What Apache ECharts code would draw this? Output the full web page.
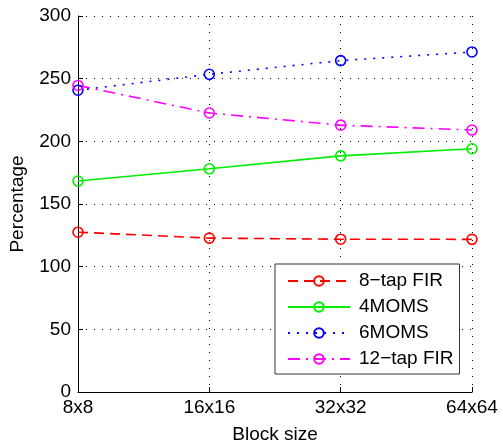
<!DOCTYPE html>
<html>
<head>
<meta charset="utf-8">
<script src="https://cdn.jsdelivr.net/npm/echarts@6/dist/echarts.min.js"></script>
<style>
  html, body { margin: 0; padding: 0; background: #fff; }
  #chart { width: 503px; height: 443px; }
</style>
</head>
<body>
<div id="chart"></div>
<script>
  // block sizes on the x axis
  let blockSizes = ['8x8', '16x16', '32x32', '64x64']
  let fir8 = [127.5, 122.8, 121.9, 121.8]
  let moms4 = [168.3, 178.1, 188.4, 194.1]
  let moms6 = [240.8, 253.5, 264.4, 271.3]
  let fir12 = [244.6, 222.6, 212.9, 209.0]
  let yTicks = [0, 50, 100, 150, 200, 250, 300]

  let font = 'Liberation Sans, Arial, Helvetica, sans-serif'
  let fs = 19

  function makeSeries(name, data, color, type){
    return {
      name: name,
      type: 'line',
      data: data,
      symbol: 'circle',
      symbolSize: 10,
      showSymbol: true,
      itemStyle: {
        color: 'rgba(255,255,255,0)',
        borderColor: color,
        borderWidth: 1.6
      },
      lineStyle: {
        color: color,
        width: 1.6,
        type: type
      },
      emphasis: { disabled: true },
      z: 3
    }
  }

  let chart = echarts.init(document.getElementById('chart'))
  let option = {
    animation: false,
    textStyle: { fontFamily: font },
    grid: {
      left: 78,
      right: 31,
      top: 16,
      bottom: 51,
      outerBoundsMode: 'none'
    },
    legend: {
      orient: 'vertical',
      left: 275,
      top: 264,
      padding: [7, 6, 5, 12],
      itemWidth: 62,
      itemHeight: 12,
      itemGap: 6,
      backgroundColor: '#fff',
      borderColor: '#333',
      borderWidth: 1,
      textStyle: { fontFamily: font, fontSize: fs, lineHeight: 20, color: '#000', padding: [0, 0, 0, 4] },
      data: ['8\u2212tap FIR', '4MOMS', '6MOMS', '12\u2212tap FIR']
    },
    xAxis: {
      type: 'category',
      data: blockSizes,
      boundaryGap: false,
      name: 'Block size',
      nameLocation: 'middle',
      nameGap: 33,
      nameTextStyle: { fontFamily: font, fontSize: fs, color: '#000' },
      axisLine: { lineStyle: { color: '#000', width: 1 } },
      axisTick: { show: true, inside: true, length: 5, alignWithLabel: true, lineStyle: { color: '#000' } },
      axisLabel: { fontFamily: font, fontSize: fs, color: '#000', margin: 6 },
      splitLine: { show: true, lineStyle: { color: '#000', type: [1, 7], width: 1 } }
    },
    yAxis: {
      type: 'value',
      min: yTicks[0],
      max: yTicks[yTicks.length - 1],
      interval: 50,
      name: 'Percentage',
      nameLocation: 'middle',
      nameGap: 51,
      nameTextStyle: { fontFamily: font, fontSize: fs, color: '#000' },
      axisLine: { show: true, lineStyle: { color: '#000', width: 1 } },
      axisTick: { show: true, inside: true, length: 5, lineStyle: { color: '#000' } },
      axisLabel: { fontFamily: font, fontSize: fs, color: '#000', margin: 7 },
      splitLine: { show: true, lineStyle: { color: '#000', type: [1, 7], width: 1 } }
    },
    series: [
      makeSeries('8\u2212tap FIR', fir8, '#ff0000', [10, 6]),
      makeSeries('4MOMS', moms4, '#00ee00', 'solid'),
      makeSeries('6MOMS', moms6, '#0000ff', [2, 7]),
      makeSeries('12\u2212tap FIR', fir12, '#ff00ff', [12, 6, 2, 6])
    ]
  }
  chart.setOption(option)
</script>
</body>
</html>
